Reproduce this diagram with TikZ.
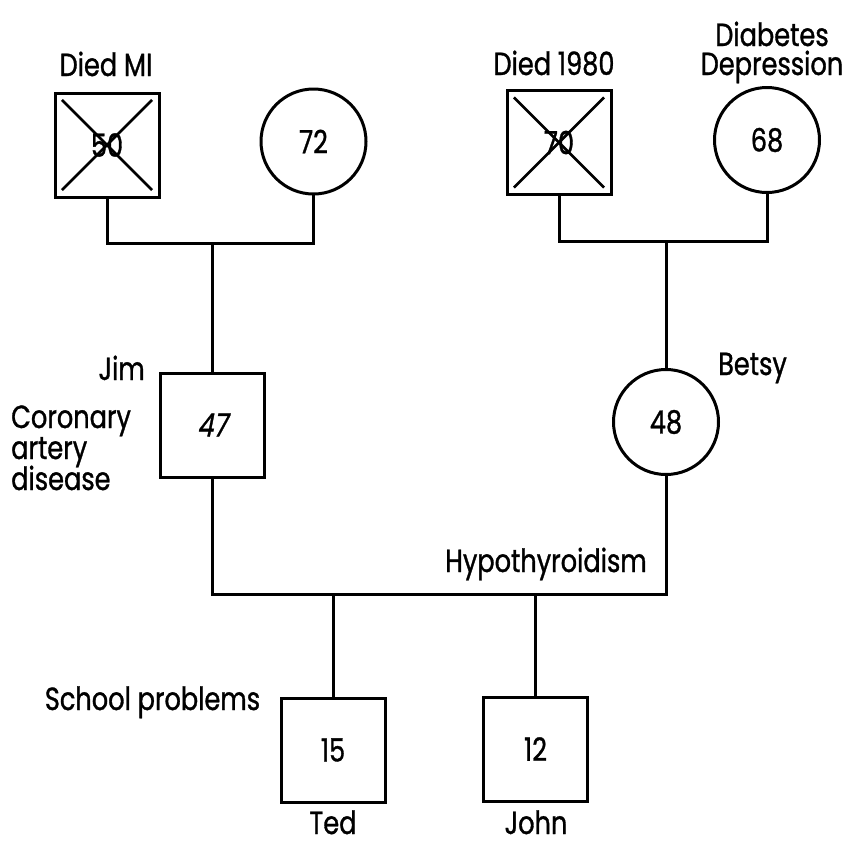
\documentclass[tikz,border=0pt]{standalone}
\usepackage{fontspec}
\setmainfont{Poppins}[FakeStretch=0.8, FakeBold=1]
\newfontfamily\slantnum{Poppins}[FakeStretch=0.8, FakeBold=1, FakeSlant=0.2]
\begin{document}
\begin{tikzpicture}[x=1pt,y=-1pt,
  sq/.style={draw, rectangle, line width=3pt, minimum size=104pt, inner sep=0pt, font=\fontsize{32}{32}\selectfont},
  ci/.style={draw, circle, line width=3pt, minimum size=105pt, inner sep=0pt, font=\fontsize{32}{32}\selectfont},
  lbl/.style={inner sep=0pt, font=\fontsize{32}{29}\selectfont},
  conn/.style={line width=3pt, line cap=rect, line join=miter},
  cross/.style={line width=2.8pt, shorten <=12pt, shorten >=12pt}]
\useasboundingbox (0,0) rectangle (843,844);
% persons
\node[sq] (gf) at (107,145) {50};
\node[ci] (gm) at (313.5,141.5) {72};
\node[sq] (rgf) at (559,142.5) {70};
\node[ci] (rgm) at (767,140) {68};
\node[sq] (jim) at (212,425) {\slantnum 47};
\node[ci] (betsy) at (666,422) {48};
\node[sq] (ted) at (333,750) {15};
\node[sq] (john) at (535.5,749) {12};
% crosses
\draw[cross] (gf.north west) -- (gf.south east);
\draw[cross] (gf.north east) -- (gf.south west);
\draw[cross] (rgf.north west) -- (rgf.south east);
\draw[cross] (rgf.north east) -- (rgf.south west);
% connector points
\coordinate (la) at (107,243);
\coordinate (lb) at (313.5,243);
\coordinate (lc) at (212,243);
\coordinate (ra) at (559,241);
\coordinate (rb) at (767,241);
\coordinate (rc) at (666,241);
\coordinate (ma) at (212,594);
\coordinate (mb) at (666,594);
\coordinate (mt) at (333,594);
\coordinate (mj) at (535.5,594);
% connectors
\draw[conn] (gf.south) -- (la) -- (lb) -- (gm.south);
\draw[conn] (lc) -- (jim.north);
\draw[conn] (rgf.south) -- (ra) -- (rb) -- (rgm.south);
\draw[conn] (rc) -- (betsy.north);
\draw[conn] (jim.south) -- (ma) -- (mb) -- (betsy.south);
\draw[conn] (mt) -- (ted.north);
\draw[conn] (mj) -- (john.north);
% labels
\node[lbl, anchor=base] (tgf) at (106,76) {Died MI};
\node[lbl, anchor=base] (trgf) at (554,75) {Died 1980};
\node[lbl, align=center, anchor=base] (trgm) at (772,75) {Diabetes\\Depression};
\node[lbl, anchor=base east] (tjim) at (145,380) {Jim};
\node[lbl, anchor=base west] (tcad1) at (11,428) {Coronary};
\node[lbl, anchor=base west] (tcad2) at (11,459) {artery};
\node[lbl, anchor=base west] (tcad3) at (11,490) {disease};
\node[lbl, anchor=base west] (tbetsy) at (718,375) {Betsy};
\node[lbl, anchor=base] (thypo) at (546,572) {Hypothyroidism};
\node[lbl, anchor=base] (tschool) at (152.5,710) {School problems};
\node[lbl, anchor=base] (tted) at (333,834) {Ted};
\node[lbl, anchor=base] (tjohn) at (536,834) {John};
\end{tikzpicture}
\end{document}
